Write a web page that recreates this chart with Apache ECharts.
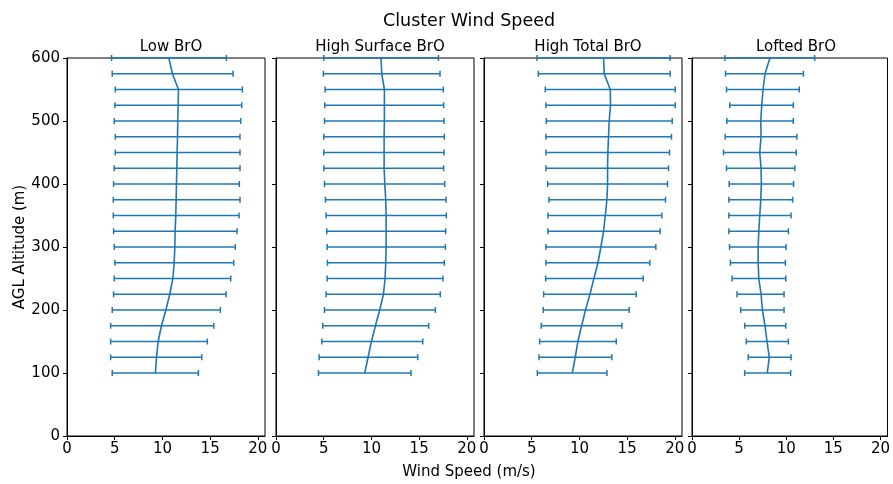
<!DOCTYPE html>
<html><head><meta charset="utf-8">
<script src="https://cdn.jsdelivr.net/npm/echarts@6/dist/echarts.min.js"></script>
<style>html,body{margin:0;padding:0;background:#fff}#c{width:893px;height:484px}</style>
</head><body><div id="c"></div>
<script>
const altitudes = [100,125,150,175,200,225,250,275,300,325,350,375,400,425,450,475,500,525,550,575,600];
const panelTitles = ['Low BrO','High Surface BrO','High Total BrO','Lofted BrO'];
const xTicks = [0,5,10,15,20];
const yTicks = [0,100,200,300,400,500,600];

const lowMean = [9.27,9.38,9.55,9.90,10.36,10.77,11.09,11.23,11.30,11.33,11.40,11.44,11.47,11.51,11.54,11.58,11.61,11.65,11.68,11.05,10.67];
const lowLo   = [4.74,4.57,4.57,4.57,4.74,4.88,4.95,5.02,4.95,4.88,4.85,4.85,4.88,4.95,5.06,5.06,4.95,5.02,5.06,4.74,4.67];
const lowHi   = [13.77,14.12,14.71,15.38,16.07,16.67,17.16,17.47,17.64,17.82,18.03,18.13,18.06,18.13,18.13,18.13,18.20,18.31,18.38,17.40,16.70];

const surfMean = [9.30,9.65,10.0,10.42,10.87,11.26,11.43,11.50,11.54,11.54,11.54,11.50,11.40,11.33,11.33,11.33,11.36,11.36,11.36,11.08,11.01];
const surfLo   = [4.45,4.52,4.80,4.90,5.08,5.25,5.36,5.39,5.36,5.32,5.25,5.18,5.08,5.01,5.01,5.01,5.08,5.11,5.15,4.97,5.01];
const surfHi   = [14.15,14.85,15.38,16.0,16.70,17.22,17.50,17.64,17.75,17.78,17.85,17.82,17.68,17.57,17.61,17.64,17.61,17.57,17.54,17.19,17.02];

const totMean = [9.25,9.56,9.84,10.23,10.64,11.10,11.52,11.94,12.25,12.53,12.71,12.88,12.95,12.95,12.98,13.05,13.12,13.26,13.23,12.60,12.53];
const totLo   = [5.59,5.76,5.83,6.0,6.21,6.25,6.46,6.49,6.49,6.70,6.70,6.81,6.67,6.49,6.49,6.49,6.53,6.49,6.42,5.69,5.55];
const totHi   = [12.88,13.40,13.86,14.45,15.22,15.95,16.68,17.38,18.01,18.46,18.64,19.02,19.23,19.34,19.44,19.65,19.72,20.04,20.04,19.51,19.51];

const loftMean = [7.99,8.20,7.96,7.75,7.47,7.33,7.09,7.02,7.02,7.09,7.19,7.30,7.36,7.33,7.19,7.33,7.30,7.40,7.54,7.75,8.27];
const loftLo   = [5.59,5.97,5.76,5.59,5.17,4.78,4.26,4.08,3.98,3.91,3.91,3.91,3.94,3.66,3.35,3.52,3.70,4.01,3.66,3.56,3.49];
const loftHi   = [10.47,10.51,10.23,9.95,9.77,9.77,9.95,9.91,9.98,10.23,10.51,10.68,10.78,10.92,11.06,11.13,10.75,10.75,11.38,11.83,13.02];

const panels = [
  {mean: lowMean, lo: lowLo, hi: lowHi},
  {mean: surfMean, lo: surfLo, hi: surfHi},
  {mean: totMean, lo: totLo, hi: totHi},
  {mean: loftMean, lo: loftLo, hi: loftHi}
];

const FONT = 'DejaVu Sans';
const BLUE = '#1f77b4';
const gridLefts = [67, 276, 484, 692];
const gridW = 198, gridTop = 58, gridH = 378;

const grids = [], xAxes = [], yAxes = [], series = [];
const titles = [
  {text: 'Cluster Wind Speed', left: 464, top: 7, textAlign: 'center',
   textStyle: {fontFamily: FONT, fontSize: 17.5, fontWeight: 'normal', color: '#000'}},
  {text: 'Wind Speed (m/s)', left: 464, top: 460, textAlign: 'center',
   textStyle: {fontFamily: FONT, fontSize: 15, fontWeight: 'normal', color: '#000'}}
];

panels.forEach((p, i) => {
  grids.push({left: gridLefts[i], top: gridTop, width: gridW, height: gridH,
    show: true, borderColor: '#000', borderWidth: 1, backgroundColor: 'transparent'});
  titles.push({text: panelTitles[i], left: gridLefts[i] + gridW / 2, top: 35, textAlign: 'center',
    textStyle: {fontFamily: FONT, fontSize: 15, fontWeight: 'normal', color: '#000'}});
  xAxes.push({type: 'value', gridIndex: i, min: 0, max: 20.75, interval: 5,
    axisLine: {show: true, onZero: false, lineStyle: {color: '#000', width: 1}},
    axisTick: {show: true, length: 4, lineStyle: {color: '#000'},
      customValues: xTicks},
    axisLabel: {fontFamily: FONT, fontSize: 15, color: '#000', margin: 6,
      customValues: xTicks,
      formatter: v => xTicks.indexOf(v) >= 0 ? String(v) : ''},
    splitLine: {show: false}});
  yAxes.push({type: 'value', gridIndex: i, min: 0, max: 600, interval: 100,
    axisLine: {show: true, onZero: false, lineStyle: {color: '#000', width: 1}},
    axisTick: {show: true, length: 4, lineStyle: {color: '#000'}},
    axisLabel: {show: i === 0, fontFamily: FONT, fontSize: 15, color: '#000', margin: 7,
      formatter: v => yTicks.indexOf(v) >= 0 ? String(v) : ''},
    splitLine: {show: false},
    name: i === 0 ? 'AGL Altitude (m)' : '',
    nameLocation: 'middle', nameGap: 39,
    nameTextStyle: {fontFamily: FONT, fontSize: 15, color: '#000'}});

  const errData = altitudes.map((a, k) => [p.lo[k], p.hi[k], a]);
  series.push({
    type: 'custom', xAxisIndex: i, yAxisIndex: i, clip: false,
    encode: {x: [0, 1], y: 2},
    data: errData,
    renderItem: function (params, api) {
      const y = api.value(2);
      const a = api.coord([api.value(0), y]);
      const b = api.coord([api.value(1), y]);
      const st = {stroke: BLUE, lineWidth: 1.5};
      const cap = 3;
      return {type: 'group', children: [
        {type: 'line', shape: {x1: a[0], y1: a[1], x2: b[0], y2: b[1]}, style: st},
        {type: 'line', shape: {x1: a[0], y1: a[1] - cap, x2: a[0], y2: a[1] + cap}, style: st},
        {type: 'line', shape: {x1: b[0], y1: b[1] - cap, x2: b[0], y2: b[1] + cap}, style: st}
      ]};
    }
  });
  series.push({
    type: 'line', xAxisIndex: i, yAxisIndex: i, clip: false,
    data: altitudes.map((a, k) => [p.mean[k], a]),
    showSymbol: false, symbol: 'none',
    lineStyle: {color: BLUE, width: 1.6}
  });
});

const chart = echarts.init(document.getElementById('c'), null, {renderer: 'canvas'});
chart.setOption({
  animation: false,
  backgroundColor: '#fff',
  title: titles,
  grid: grids,
  xAxis: xAxes,
  yAxis: yAxes,
  series: series
});
</script></body></html>
